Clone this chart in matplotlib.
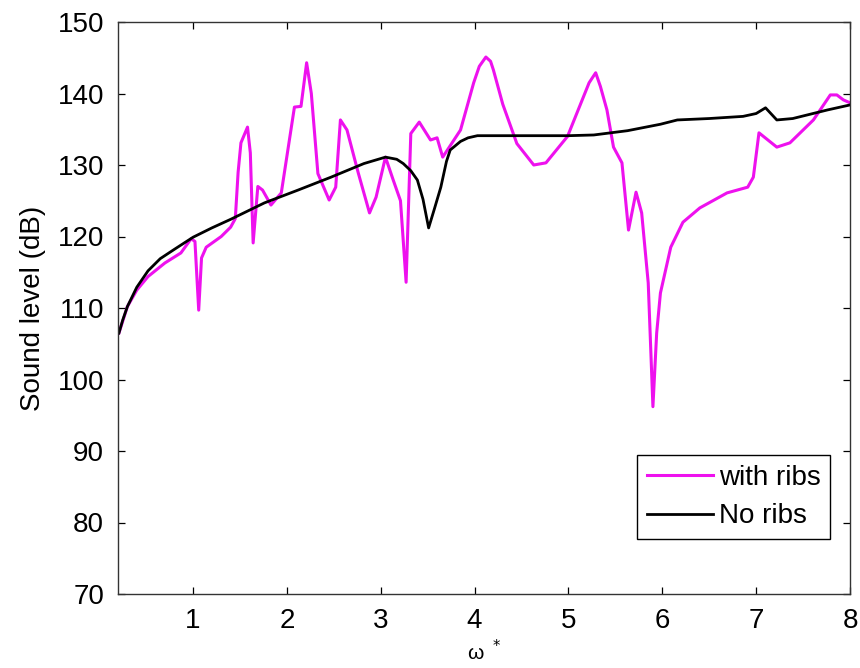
import matplotlib.pyplot as plt

plt.rcParams['font.family'] = ['Liberation Sans', 'DejaVu Sans']
plt.rcParams['mathtext.fontset'] = 'dejavusans'

# with ribs (magenta)
ribs_x = [0.21, 0.30, 0.40, 0.52, 0.70, 0.87, 0.98, 1.02, 1.06, 1.09, 1.14, 1.30, 1.40,
          1.45, 1.48, 1.51, 1.58, 1.61, 1.64, 1.69, 1.74, 1.83, 1.94, 2.08, 2.15, 2.21,
          2.26, 2.33, 2.45, 2.52, 2.57, 2.64, 2.76, 2.88, 2.95, 3.05, 3.13, 3.21, 3.27,
          3.32, 3.41, 3.53, 3.60, 3.66, 3.85, 3.99, 4.05, 4.12, 4.17, 4.20, 4.30, 4.45,
          4.63, 4.76, 4.99, 5.22, 5.29, 5.34, 5.41, 5.48, 5.57, 5.64, 5.72, 5.78, 5.85,
          5.90, 5.94, 5.98, 6.09, 6.22, 6.40, 6.69, 6.91, 6.97, 7.03, 7.22, 7.36, 7.61,
          7.79, 7.86, 7.93, 8.00]
ribs_y = [106.5, 110.2, 112.5, 114.4, 116.3, 117.7, 119.7, 119.3, 109.7, 117.0, 118.5, 120.0, 121.3,
          122.5, 129.0, 133.1, 135.3, 131.7, 119.1, 127.0, 126.5, 124.4, 126.1, 138.1, 138.2, 144.3,
          140.0, 128.8, 125.1, 126.9, 136.3, 134.9, 128.9, 123.3, 125.5, 131.1, 128.0, 125.0, 113.6,
          134.4, 136.0, 133.5, 133.8, 131.1, 134.9, 141.5, 143.8, 145.1, 144.5, 143.3, 138.5, 133.0,
          130.0, 130.3, 134.0, 141.5, 142.9, 141.0, 137.7, 132.5, 130.3, 120.9, 126.2, 123.3, 113.5,
          96.2, 106.5, 112.1, 118.5, 122.0, 124.0, 126.1, 126.9, 128.3, 134.5, 132.5, 133.1, 136.3,
          139.8, 139.8, 139.1, 138.7]

# no ribs (black)
noribs_x = [0.21, 0.25, 0.30, 0.40, 0.52, 0.65, 0.80, 1.00, 1.20, 1.40, 1.76, 2.12, 2.47,
            2.82, 3.05, 3.17, 3.24, 3.32, 3.39, 3.45, 3.51, 3.57, 3.64, 3.70, 3.74, 3.85,
            3.93, 4.03, 4.50, 5.00, 5.27, 5.63, 5.98, 6.16, 6.50, 6.86, 7.00, 7.10, 7.22,
            7.39, 7.76, 8.00]
noribs_y = [106.5, 108.3, 110.2, 112.9, 115.2, 116.9, 118.2, 119.9, 121.2, 122.4, 124.7, 126.5, 128.3,
            130.2, 131.1, 130.8, 130.2, 129.2, 127.9, 125.2, 121.2, 123.8, 126.9, 130.5, 132.1, 133.3,
            133.8, 134.1, 134.1, 134.1, 134.2, 134.8, 135.7, 136.3, 136.5, 136.8, 137.2, 138.0, 136.3,
            136.5, 137.7, 138.4]

fig = plt.figure(figsize=(8.6, 6.68), dpi=100)
ax = fig.add_axes([118 / 860, 1 - 594 / 668, 732 / 860, 572 / 668])

ax.plot(ribs_x, ribs_y, color='#ee11ee', linewidth=2.2, label='with ribs')
ax.plot(noribs_x, noribs_y, color='black', linewidth=2.0, label='No ribs')

ax.set_xlim(0.2, 8)
ax.set_ylim(70, 150)
ax.set_xticks(range(1, 9))
ax.set_yticks(range(70, 151, 10))
ax.tick_params(direction='in', length=5, width=0.9, top=True, right=True,
               labelsize=20, pad=10)
for s in ax.spines.values():
    s.set_linewidth(1.0)
    s.set_color('#333333')

ax.set_ylabel('Sound level (dB)', fontsize=20, labelpad=8)
ax.set_xlabel('ω $^*$', fontsize=15, labelpad=4)

leg = ax.legend(loc='lower right', bbox_to_anchor=(0.973, 0.096), borderaxespad=0,
                fontsize=20, handlelength=2.4, handletextpad=0.2, labelspacing=0.45,
                borderpad=0.35, fancybox=False, framealpha=1)
leg.get_frame().set_edgecolor('black')
leg.get_frame().set_linewidth(1.0)

fig.savefig('out.png', dpi=100)
